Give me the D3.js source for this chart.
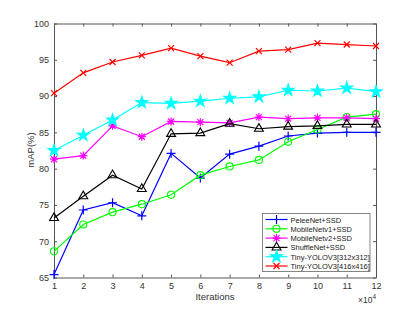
<!DOCTYPE html>
<html>
<head>
<meta charset="utf-8">
<script src="https://cdnjs.cloudflare.com/ajax/libs/d3/7.8.5/d3.min.js"></script>
<style>
  body { margin: 0; background: #fff; }
  text { font-family: "Liberation Sans", Arial, sans-serif; }
</style>
</head>
<body>
<script>
'use strict';

// iterations (x 10^4)
const iterations = [1, 2, 3, 4, 5, 6, 7, 8, 9, 10, 11, 12];
const xTicks = [1, 2, 3, 4, 5, 6, 7, 8, 9, 10, 11, 12];
const yTicks = [65, 70, 75, 80, 85, 90, 95, 100];

const seriesNames = ["PeleeNet+SSD", "MobileNetv1+SSD", "MobileNetv2+SSD",
  "ShuffleNet+SSD", "Tiny-YOLOV3[312x312]", "Tiny-YOLOV3[416x416]"];

const pelee    = [65.4, 74.3, 75.3, 73.5, 82.1, 78.7, 82.0, 83.1, 84.5, 84.9, 85.0, 85.0];
const mobv1    = [68.6, 72.3, 74.0, 75.1, 76.4, 79.1, 80.3, 81.2, 83.7, 85.4, 87.1, 87.5];
const mobv2    = [81.3, 81.8, 85.9, 84.4, 86.5, 86.4, 86.3, 87.1, 86.9, 87.0, 87.0, 86.9];
const shuffle  = [73.2, 76.2, 79.1, 77.2, 84.8, 84.9, 86.2, 85.5, 85.8, 85.9, 86.1, 86.1];
const tiny312  = [82.5, 84.6, 86.7, 89.1, 89.0, 89.3, 89.7, 89.9, 90.8, 90.7, 91.1, 90.6];
const tiny416  = [90.4, 93.2, 94.7, 95.6, 96.6, 95.5, 94.6, 96.2, 96.4, 97.3, 97.1, 96.9];

const seriesValues = [pelee, mobv1, mobv2, shuffle, tiny312, tiny416];
const seriesColors = ["#0000ff", "#00ff00", "#ff00ff", "#000000", "#00ffff", "#ff0000"];
const seriesMarkers = ["plus", "circle", "asterisk", "triangle", "star", "cross"];

const W = 415, H = 312;
const margin = {top: 23.5, right: 39, bottom: 34.5, left: 54};
const width = W - margin.left - margin.right;
const height = H - margin.top - margin.bottom;

const svg = d3.select('body').append('svg')
  .attr('width', W)
  .attr('height', H);

const g = svg.append('g')
  .attr('transform', 'translate(' + margin.left + ',' + margin.top + ')');

const x = d3.scaleLinear().domain([1, 12]).range([0, width]);
const y = d3.scaleLinear().domain([65, 100]).range([height, 0]);

const axisColor = "#555";
const labelColor = "#333";

// marker path for a given type
function markerPath(type) {
  if (type === "plus") return "M-4.5,0H4.5M0,-4.5V4.5";
  if (type === "cross") return "M-3,-3L3,3M-3,3L3,-3";
  if (type === "asterisk") return "M-4,0H4M0,-4V4M-3,-3L3,3M-3,3L3,-3";
  if (type === "circle") return d3.symbol(d3.symbolCircle, 40)();
  if (type === "triangle") return d3.symbol(d3.symbolTriangle, 34)();
  if (type === "star") return d3.symbol(d3.symbolStar, 42)();
  return "";
}

function drawMarker(sel, type, color) {
  sel.append('path')
    .attr('d', markerPath(type))
    .attr('fill', type === "star" ? color : "none")
    .attr('stroke', color)
    .attr('stroke-width', type === "triangle" || type === "circle" ? 1.1 : 1.2);
}

// axes
g.append('g')
  .attr('transform', 'translate(0,' + height + ')')
  .call(d3.axisBottom(x).tickValues(xTicks).tickSize(-3).tickPadding(5).tickSizeOuter(0))
  .call(a => a.select('.domain').attr('stroke', axisColor))
  .call(a => a.selectAll('line').attr('stroke', axisColor))
  .call(a => a.selectAll('text').attr('fill', labelColor).style('font-size', '9px'));

g.append('g')
  .call(d3.axisTop(x).tickValues(xTicks).tickSize(-3).tickFormat('').tickSizeOuter(0))
  .call(a => a.select('.domain').attr('stroke', axisColor))
  .call(a => a.selectAll('line').attr('stroke', axisColor));

g.append('g')
  .call(d3.axisLeft(y).tickValues(yTicks).tickSize(-3).tickPadding(5).tickSizeOuter(0))
  .call(a => a.select('.domain').attr('stroke', axisColor))
  .call(a => a.selectAll('line').attr('stroke', axisColor))
  .call(a => a.selectAll('text').attr('fill', labelColor).style('font-size', '9px'));

g.append('g')
  .attr('transform', 'translate(' + width + ',0)')
  .call(d3.axisRight(y).tickValues(yTicks).tickSize(-3).tickFormat('').tickSizeOuter(0))
  .call(a => a.select('.domain').attr('stroke', axisColor))
  .call(a => a.selectAll('line').attr('stroke', axisColor));

// lines and markers
const line = d3.line()
  .x((d, i) => x(iterations[i]))
  .y(d => y(d));

seriesValues.forEach((vals, s) => {
  g.append('path')
    .datum(vals)
    .attr('d', line)
    .attr('fill', 'none')
    .attr('stroke', seriesColors[s])
    .attr('stroke-width', 1.2);

  g.selectAll('.m' + s)
    .data(vals)
    .enter()
    .append('g')
    .attr('class', 'm' + s)
    .attr('transform', (d, i) => 'translate(' + x(iterations[i]) + ',' + y(d) + ')')
    .each(function() { drawMarker(d3.select(this), seriesMarkers[s], seriesColors[s]); });
});

// axis labels
svg.append('text')
  .attr('transform', 'translate(34,150)rotate(-90)')
  .attr('text-anchor', 'middle')
  .attr('fill', labelColor)
  .style('font-size', '9.5px')
  .text('mAP(%)');

svg.append('text')
  .attr('x', margin.left + width / 2)
  .attr('y', 300)
  .attr('text-anchor', 'middle')
  .attr('fill', labelColor)
  .style('font-size', '9.5px')
  .text('Iterations');

const expo = svg.append('text')
  .attr('x', margin.left + width)
  .attr('y', 303)
  .attr('text-anchor', 'end')
  .attr('fill', labelColor)
  .style('font-size', '8.5px');
expo.append('tspan').text('\u00d710');
expo.append('tspan').attr('dy', -4.5).style('font-size', '6.5px').text('4');

// legend
const legend = svg.append('g').attr('transform', 'translate(262.5,213.5)');
legend.append('rect')
  .attr('width', 107.5)
  .attr('height', 58)
  .attr('fill', '#fff')
  .attr('stroke', '#666')
  .attr('stroke-width', 0.8);

seriesNames.forEach((name, s) => {
  const row = legend.append('g').attr('transform', 'translate(0,' + (6 + s * 9.3) + ')');
  row.append('line')
    .attr('x1', 3).attr('x2', 25)
    .attr('stroke', seriesColors[s])
    .attr('stroke-width', 1.2);
  const mk = row.append('g').attr('transform', 'translate(14,0)');
  drawMarker(mk, seriesMarkers[s], seriesColors[s]);
  row.append('text')
    .attr('x', 28)
    .attr('y', 3)
    .attr('fill', '#222')
    .style('font-size', '7.5px')
    .text(name);
});
</script>
</body>
</html>
